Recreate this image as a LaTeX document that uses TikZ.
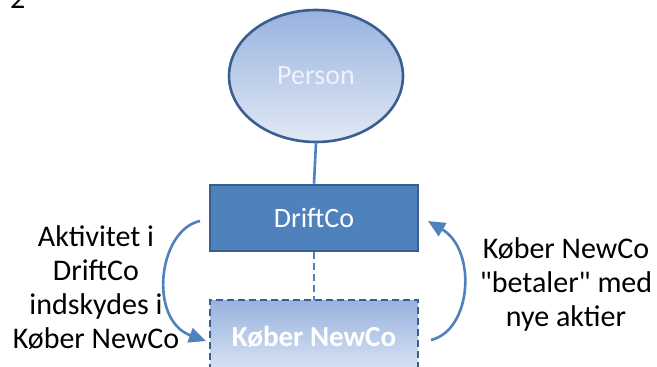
\documentclass[tikz,border=0pt]{standalone}
\usepackage{fontspec}
\setmainfont{Carlito}[Ligatures=TeXOff]
\usetikzlibrary{arrows.meta,shapes.geometric}
\definecolor{accent}{HTML}{4F81BD}
\definecolor{edge}{HTML}{3A5F8E}
\definecolor{gtop}{HTML}{98B2DF}
\definecolor{gbot}{HTML}{E2E9F5}
\definecolor{ptext}{HTML}{EEF2F9}
\tikzset{
  every node/.style={font=\fontsize{30}{34}\selectfont},
  lbl/.style={align=center,text=black,inner sep=0pt},
  flow/.style={draw=accent,line width=2.6pt,-{Triangle[length=17pt,width=15pt]}},
  link/.style={draw=accent,line width=2.6pt},
  boxtext/.style={text=white,inner sep=0pt,font=\fontsize{28}{33}\selectfont},
}
\begin{document}
\begin{tikzpicture}[x=1pt,y=-1pt]
\useasboundingbox (0,0) rectangle (657,367);
% number
\node[anchor=base west,inner sep=0pt] (num) at (10,8) {2};
% person ellipse
\shade[top color=gtop,bottom color=gbot,draw=edge,line width=2.6pt] (316,76) ellipse [x radius=87, y radius=66];
\node[ellipse,minimum width=174pt,minimum height=132pt,inner sep=0pt,text=ptext,font=\fontsize{28}{33}\selectfont] (person) at (316,76) {Person};
% DriftCo
\node[rectangle,fill=accent,draw=edge,line width=2.6pt,minimum width=208pt,minimum height=66pt,boxtext] (drift) at (314,218) {DriftCo};
% Koeber NewCo
\shade[top color=gtop,bottom color=gbot] (210,300) rectangle (418,380);
\draw[edge,line width=2.6pt,dash pattern=on 7pt off 4pt] (418,380) -- (418,300) -- (210,300) -- (210,380);
\node[rectangle,minimum width=208pt,minimum height=80pt,inner sep=0pt] (newco) at (314,340) {};
\node[boxtext,font=\fontsize{29}{33}\selectfont\bfseries,anchor=base] (newcotxt) at (314,346) {Køber NewCo};
% connectors
\draw[link] (person.south) -- (drift.north);
\draw[link,dash pattern=on 7pt off 4pt] (drift.south) -- (newco.north);
% curved arrows
\coordinate (l1) at (200,221);
\coordinate (l2) at (206,341);
\coordinate (r1) at (431,340);
\coordinate (r2) at (428,221);
\draw[flow] (l1) .. controls (158,230) and (148,320) .. (l2);
\draw[flow] (r1) .. controls (472,330) and (477,250) .. (r2);
% labels
\node[lbl] (ltxt) at (96,288) {Aktivitet i\\DriftCo\\indskydes i\\Køber NewCo};
\node[lbl] (rtxt) at (566,284) {Køber NewCo\\"betaler" med\\nye aktier};
\end{tikzpicture}
\end{document}
